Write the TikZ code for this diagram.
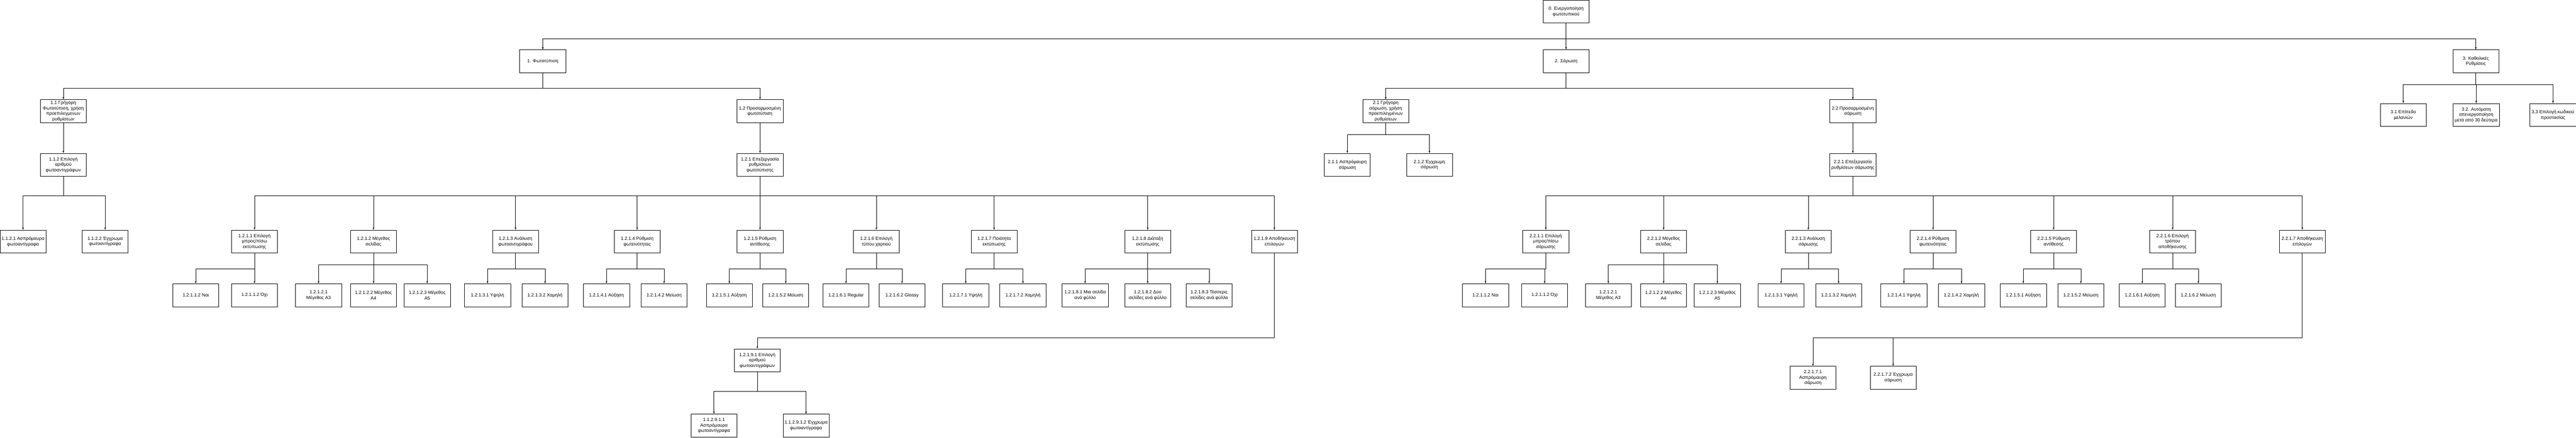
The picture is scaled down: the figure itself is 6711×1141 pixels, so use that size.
\documentclass[tikz,border=0pt]{standalone}
\usepackage{fontspec}
\setmainfont{Liberation Sans}
\tikzset{
  box/.style={draw, line width=1pt, minimum width=120pt, minimum height=60pt, inner sep=2pt, align=center, font=\fontsize{12}{14}\selectfont},
  conn/.style={-latex, line width=1pt}
}

\begin{document}
\begin{tikzpicture}[x=1pt, y=-1pt]
			\useasboundingbox (0,0) rectangle (6711,1141);
			\node[box] (root) at (4080,30) {0. Ενεργοποίηση\\φωτοτυπικού};
			\node[box] (n1) at (1414,160) {1. Φωτοτύπιση};
			\node[box] (n2) at (4080,160) {2. Σάρωση};
			\node[box] (n3) at (6450,160) {3. Καθολικές\\Ρυθμίσεις};
			% 1. Φωτοτύπιση
			\node[box] (n11) at (165,290) {1.1 Γρήγορη\\Φωτοτύπιση, χρήση\\προεπιλεγμενων\\ρυθμίσεων};
			\node[box] (n112) at (165,430) {1.1.2 Επιλογή\\αριθμού\\φωτοαντιγράφων};
			\node[box] (n1121) at (60,630) {1.1.2.1 Ασπρόμαυρα\\φωτοαντίγραφα};
			\node[box] (n1122) at (274,630) {1.1.2.2 Έγχρωμα\\φωτοαντίγραφα};
			\node[box] (n12) at (1980,290) {1.2 Προσαρμοσμένη\\φωτοτύπιση};
			\node[box] (n121) at (1980,430) {1.2.1 Επεξεργασία\\ρυθμίσεων\\φωτοτύπισης};
			\node[box] (n1211) at (663,630) {1.2.1.1 Επιλογή\\μπρος/πίσω\\εκτύπωσης};
			\node[box] (n1212) at (973,630) {1.2.1.2 Μέγεθος\\σελίδας};
			\node[box] (n1213) at (1343,630) {1.2.1.3 Ανάλυση\\φωτοαντιγράφου};
			\node[box] (n1214) at (1660,630) {1.2.1.4 Ρύθμιση\\φωτεινότητας};
			\node[box] (n1215) at (1980,630) {1.2.1.5 Ρύθμιση\\αντίθεσης};
			\node[box] (n1216) at (2283,630) {1.2.1.6 Επιλογή\\τύπου χαρτιού};
			\node[box] (n1217) at (2590,630) {1.2.1.7 Ποιότητα\\εκτύπωσης};
			\node[box] (n1218) at (2990,630) {1.2.1.8 Διάταξη\\εκτύπωσης};
			\node[box] (n1219) at (3320,630) {1.2.1.9 Αποθήκευση\\επιλογών};
			\node[box] (n12111) at (510,770) {1.2.1.1.2 Ναι};
			\node[box] (n12112) at (663,770) {1.2.1.1.2 Όχι};
			\node[box] (n12121) at (830,770) {1.2.1.2.1\\Μέγεθος Α3};
			\node[box] (n12122) at (973,770) {1.2.1.2.2 Μέγεθος\\Α4};
			\node[box] (n12123) at (1113,770) {1.2.1.2.3 Μέγεθος\\Α5};
			\node[box] (n12131) at (1270,770) {1.2.1.3.1 Υψηλή};
			\node[box] (n12132) at (1420,770) {1.2.1.3.2 Χαμηλή};
			\node[box] (n12141) at (1580,770) {1.2.1.4.1 Αύξηση};
			\node[box] (n12142) at (1730,770) {1.2.1.4.2 Μείωση};
			\node[box] (n12151) at (1900,770) {1.2.1.5.1 Αύξηση};
			\node[box] (n12152) at (2047,770) {1.2.1.5.2 Μείωση};
			\node[box] (n12161) at (2204,770) {1.2.1.6.1 Regular};
			\node[box] (n12162) at (2350,770) {1.2.1.6.2 Glossy};
			\node[box] (n12171) at (2516,770) {1.2.1.7.1 Υψηλή};
			\node[box] (n12172) at (2665,770) {1.2.1.7.2 Χαμηλή};
			\node[box] (n12181) at (2827,770) {1.2.1.8.1 Μια σελίδα\\ανά φύλλο};
			\node[box] (n12182) at (2990,770) {1.2.1.8.2 Δύο\\σελίδες ανά φύλλο};
			\node[box] (n12183) at (3150,770) {1.2.1.8.3 Τέσσερις\\σελίδες ανά φύλλο};
			\node[box] (n12191) at (1973,940) {1.2.1.9.1 Επιλογή\\αριθμού\\φωτοαντιγράφων};
			\node[box] (n121911) at (1860,1110) {1.1.2.9.1.1\\Ασπρόμαυρα\\φωτοαντίγραφα};
			\node[box] (n121912) at (2100,1110) {1.1.2.9.1.2 Έγχρωμα\\φωτοαντίγραφα};
			% 2. Σάρωση
			\node[box] (n21) at (3610,290) {2.1 Γρήγορη\\σάρωση, χρήση\\προεπιλεγμένων\\ρυθμίσεων};
			\node[box] (n211) at (3510,430) {2.1.1 Ασπρόμαυρη\\σάρωση};
			\node[box] (n212) at (3724,430) {2.1.2 Έγχρωμη\\σάρωση};
			\node[box] (n22) at (4827,290) {2.2 Προσαρμοσμένη\\σάρωση};
			\node[box] (n221) at (4827,430) {2.2.1 Επεξεργασία\\ρυθμίσεων σάρωσης};
			\node[box] (n2211) at (4027,630) {2.2.1.1 Επιλογή\\μπρος/πίσω\\σάρωσης};
			\node[box] (n2212) at (4334,630) {2.2.1.2 Μέγεθος\\σελίδας};
			\node[box] (n2213) at (4711,630) {2.2.1.3 Ανάλυση\\σάρωσης};
			\node[box] (n2214) at (5036,630) {2.2.1.4 Ρύθμιση\\φωτεινότητας};
			\node[box] (n2215) at (5350,630) {2.2.1.5 Ρύθμιση\\αντίθεσης};
			\node[box] (n2216) at (5660,630) {2.2.1.6 Επιλογή\\τρόπου\\αποθήκευσης};
			\node[box] (n2217) at (5998,630) {2.2.1.7 Αποθήκευση\\επιλογών};
			\node[box] (n22111) at (3870,770) {1.2.1.1.2 Ναι};
			\node[box] (n22112) at (4024,770) {1.2.1.1.2 Όχι};
			\node[box] (n22121) at (4190,770) {1.2.1.2.1\\Μέγεθος Α3};
			\node[box] (n22122) at (4334,770) {1.2.1.2.2 Μέγεθος\\Α4};
			\node[box] (n22123) at (4474,770) {1.2.1.2.3 Μέγεθος\\Α5};
			\node[box] (n22131) at (4640,770) {1.2.1.3.1 Υψηλή};
			\node[box] (n22132) at (4790,770) {1.2.1.3.2 Χαμηλή};
			\node[box] (n22141) at (4960,770) {1.2.1.4.1 Υψηλή};
			\node[box] (n22142) at (5110,770) {1.2.1.4.2 Χαμηλή};
			\node[box] (n22151) at (5271,770) {1.2.1.5.1 Αύξηση};
			\node[box] (n22152) at (5421,770) {1.2.1.5.2 Μείωση};
			\node[box] (n22161) at (5581,770) {1.2.1.6.1 Αύξηση};
			\node[box] (n22162) at (5727,770) {1.2.1.6.2 Μείωση};
			\node[box] (n22171) at (4723,985) {2.2.1.7.1\\Ασπρόμαυρη\\σάρωση};
			\node[box] (n22172) at (4932,985) {2.2.1.7.2 Έγχρωμα\\σάρωση};
			% 3. Καθολικές Ρυθμίσεις
			\node[box] (n31) at (6261,300) {3.1 Επίπεδο\\μελανιών};
			\node[box] (n32) at (6451,300) {3.2. Αυτόματη\\απενεργοποίηση\\μετά από 30 δεύτερα};
			\node[box] (n33) at (6651,300) {3,3 Επιλογή κωδικού\\προστασίας};
			% connectors
			\foreach \c in {n1,n2,n3} \draw[conn] (root.south) -- ++(0,40) -| (\c.north);
			\foreach \c in {n11,n12} \draw[conn] (n1.south) -- ++(0,40) -| (\c.north);
			\foreach \c in {n21,n22} \draw[conn] (n2.south) -- ++(0,40) -| (\c.north);
			\foreach \c in {n31,n32,n33} \draw[conn] (n3.south) -- ++(0,30) -| (\c.north);
			\draw[conn] (n11) -- (n112);
			\draw[conn] (n12) -- (n121);
			\draw[conn] (n22) -- (n221);
			\foreach \c in {n1121,n1122} \draw[conn] (n112.south) -- ++(0,50) -| (\c.north);
			\foreach \c in {n211,n212} \draw[conn] (n21.south) -- ++(0,30) -| (\c.north);
			\foreach \c in {n1211,n1212,n1213,n1214,n1215,n1216,n1217,n1218,n1219}
				\draw[conn] (n121.south) -- ++(0,50) -| (\c.north);
			\foreach \c in {n2211,n2212,n2213,n2214,n2215,n2216,n2217}
				\draw[conn] (n221.south) -- ++(0,50) -| (\c.north);
			\foreach \p/\a/\b in {n1211/n12111/n12112, n1213/n12131/n12132, n1214/n12141/n12142,
				n1215/n12151/n12152, n1216/n12161/n12162, n1217/n12171/n12172,
				n2211/n22111/n22112, n2213/n22131/n22132, n2214/n22141/n22142,
				n2215/n22151/n22152, n2216/n22161/n22162} {
				\draw[conn] (\p.south) -- ++(0,40) -| (\a.north);
				\draw[conn] (\p.south) -- ++(0,40) -| (\b.north);
			}
			\foreach \c in {n12121,n12122,n12123} \draw[conn] (n1212.south) -- ++(0,30) -| (\c.north);
			\foreach \c in {n22121,n22122,n22123} \draw[conn] (n2212.south) -- ++(0,30) -| (\c.north);
			\foreach \c in {n12181,n12182,n12183} \draw[conn] (n1218.south) -- ++(0,40) -| (\c.north);
			\draw[conn] (n1219.south) -- ++(0,220) -| (n12191.north);
			\foreach \c in {n121911,n121912} \draw[conn] (n12191.south) -- ++(0,50) -| (\c.north);
			\foreach \c in {n22171,n22172} \draw[conn] (n2217.south) -- ++(0,220) -| (\c.north);
		\end{tikzpicture}
\end{document}
